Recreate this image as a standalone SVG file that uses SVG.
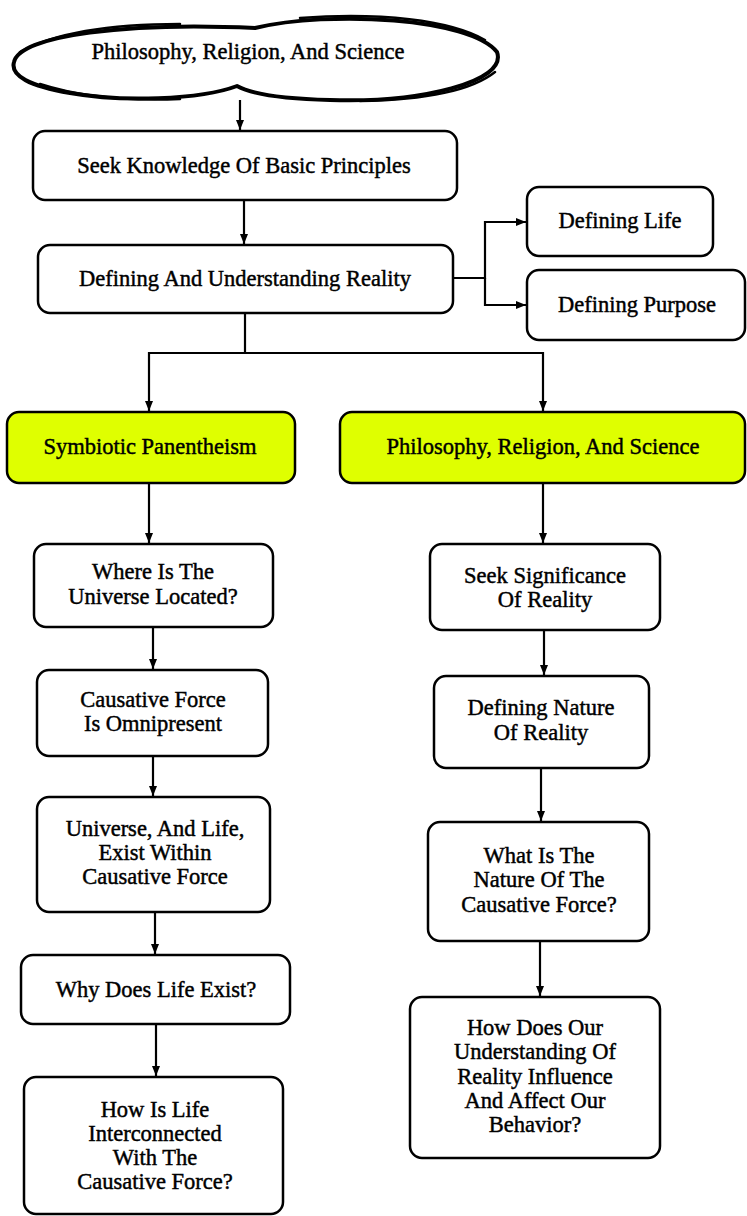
<svg xmlns="http://www.w3.org/2000/svg" width="747" height="1216" viewBox="0 0 747 1216">
<style>
.box{fill:#fff;stroke:#000;stroke-width:2.5}
.hl{fill:#DFFF00;stroke:#000;stroke-width:2.5}
.t{font-family:"Liberation Serif","Times New Roman",serif;font-size:22.5px;text-anchor:middle;fill:#000;stroke:#000;stroke-width:0.45}
.c{fill:none;stroke:#000;stroke-width:2.2}
</style>
<defs>
<marker id="ah" viewBox="0 0 10 8" refX="10" refY="4" markerWidth="10" markerHeight="8" markerUnits="userSpaceOnUse" orient="auto">
<path d="M0,0 L10,4 L0,8 Z" fill="#000"/>
</marker>
</defs>
<g id="connectors">
<path class="c" d="M240,100 V130" marker-end="url(#ah)"/>
<path class="c" d="M244,200 V244" marker-end="url(#ah)"/>
<path class="c" d="M453,278 H485 V222 H526" marker-end="url(#ah)"/>
<path class="c" d="M485,278 V305 H526" marker-end="url(#ah)"/>
<path class="c" d="M245,313 V353 H149 V411" marker-end="url(#ah)"/>
<path class="c" d="M245,353 H543 V411" marker-end="url(#ah)"/>
<path class="c" d="M149,483 V543" marker-end="url(#ah)"/>
<path class="c" d="M153,627 V669" marker-end="url(#ah)"/>
<path class="c" d="M153,756 V796" marker-end="url(#ah)"/>
<path class="c" d="M155,912 V954" marker-end="url(#ah)"/>
<path class="c" d="M156,1024 V1076" marker-end="url(#ah)"/>
<path class="c" d="M543,483 V543" marker-end="url(#ah)"/>
<path class="c" d="M544,630 V675" marker-end="url(#ah)"/>
<path class="c" d="M541,768 V821" marker-end="url(#ah)"/>
<path class="c" d="M540,941 V996" marker-end="url(#ah)"/>
</g>
<g id="cloud">
<path d="M14,62 C20,35 130,22 255,28 C330,10 470,18 497,52 C508,82 420,103 330,100 C290,99 255,96 237,86 C200,100 120,102 70,93 C30,86 10,76 14,62 Z" fill="#fff" stroke="#000" stroke-width="4" stroke-linejoin="round"/>
<path d="M20,52 C60,30 120,24 180,24 M300,18 C380,12 450,20 485,40 M495,72 C470,92 420,100 360,101 M180,99 C130,101 80,97 40,84" fill="none" stroke="#000" stroke-width="2.5" stroke-linecap="round"/>
<text class="t" x="248" y="59">Philosophy, Religion, And Science</text>
</g>
<g id="seek">
<rect class="box" x="33" y="131" width="424" height="69" rx="12"/>
<text class="t" x="244" y="173">Seek Knowledge Of Basic Principles</text>
</g>
<g id="daur">
<rect class="box" x="38" y="245" width="415" height="68" rx="12"/>
<text class="t" x="245" y="286">Defining And Understanding Reality</text>
</g>
<g id="life">
<rect class="box" x="527" y="187" width="186" height="69" rx="12"/>
<text class="t" x="620" y="228">Defining Life</text>
</g>
<g id="purpose">
<rect class="box" x="527" y="270" width="218" height="70" rx="12"/>
<text class="t" x="637" y="312">Defining Purpose</text>
</g>
<g id="symb">
<rect class="hl" x="7" y="412" width="288" height="71" rx="12"/>
<text class="t" x="150" y="454">Symbiotic Panentheism</text>
</g>
<g id="prs">
<rect class="hl" x="340" y="412" width="405" height="71" rx="12"/>
<text class="t" x="543" y="454">Philosophy, Religion, And Science</text>
</g>
<g id="where">
<rect class="box" x="34" y="544" width="239" height="83" rx="12"/>
<text class="t" x="153" y="579">Where Is The</text>
<text class="t" x="153" y="604">Universe Located?</text>
</g>
<g id="omni">
<rect class="box" x="37" y="670" width="231" height="86" rx="12"/>
<text class="t" x="153" y="707">Causative Force</text>
<text class="t" x="153" y="731">Is Omnipresent</text>
</g>
<g id="within">
<rect class="box" x="37" y="797" width="233" height="115" rx="12"/>
<text class="t" x="155" y="836">Universe, And Life,</text>
<text class="t" x="155" y="860">Exist Within</text>
<text class="t" x="155" y="884">Causative Force</text>
</g>
<g id="why">
<rect class="box" x="21" y="955" width="269" height="69" rx="12"/>
<text class="t" x="156" y="997">Why Does Life Exist?</text>
</g>
<g id="howlife">
<rect class="box" x="24" y="1077" width="259" height="137" rx="12"/>
<text class="t" x="155" y="1117">How Is Life</text>
<text class="t" x="155" y="1141">Interconnected</text>
<text class="t" x="155" y="1165">With The</text>
<text class="t" x="155" y="1189">Causative Force?</text>
</g>
<g id="signif">
<rect class="box" x="430" y="544" width="230" height="86" rx="12"/>
<text class="t" x="545" y="583">Seek Significance</text>
<text class="t" x="545" y="607">Of Reality</text>
</g>
<g id="nature">
<rect class="box" x="434" y="676" width="215" height="92" rx="12"/>
<text class="t" x="541" y="715">Defining Nature</text>
<text class="t" x="541" y="740">Of Reality</text>
</g>
<g id="whatis">
<rect class="box" x="428" y="822" width="221" height="119" rx="12"/>
<text class="t" x="539" y="863">What Is The</text>
<text class="t" x="539" y="887">Nature Of The</text>
<text class="t" x="539" y="912">Causative Force?</text>
</g>
<g id="behavior">
<rect class="box" x="410" y="997" width="250" height="161" rx="12"/>
<text class="t" x="535" y="1035">How Does Our</text>
<text class="t" x="535" y="1059">Understanding Of</text>
<text class="t" x="535" y="1084">Reality Influence</text>
<text class="t" x="535" y="1108">And Affect Our</text>
<text class="t" x="535" y="1132">Behavior?</text>
</g>
</svg>
